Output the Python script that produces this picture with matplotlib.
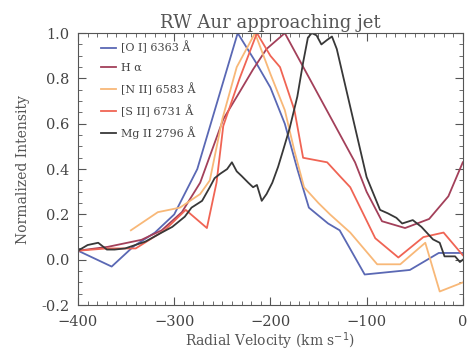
"""RW Aur approaching jet line profiles."""

import matplotlib

matplotlib.use("Agg")
import matplotlib.pyplot as plt
from matplotlib.ticker import FormatStrFormatter, MultipleLocator

# [O I] 6363
oi_v = [-400, -365, -342, -320, -300, -276, -234, -215, -200, -185, -172, -160,
        -140, -128, -102, -55, -25, 0]
oi_i = [0.04, -0.03, 0.06, 0.12, 0.20, 0.40, 1.00, 0.87, 0.76, 0.60, 0.40, 0.23,
        0.16, 0.13, -0.065, -0.045, 0.03, 0.03]

# H alpha
ha_v = [-400, -369, -334, -313, -292, -273, -249, -232, -218, -204, -185, -112,
        -100, -84, -60, -35, -15, 0]
ha_i = [0.04, 0.057, 0.088, 0.13, 0.21, 0.34, 0.62, 0.74, 0.84, 0.93, 1.00, 0.43,
        0.30, 0.17, 0.14, 0.18, 0.28, 0.43]

# [N II] 6583
nii_v = [-345, -317, -294, -273, -263, -250, -235, -216, -200, -185, -175, -165,
         -150, -138, -117, -89, -65, -39, -24, 0]
nii_i = [0.13, 0.21, 0.23, 0.29, 0.35, 0.62, 0.85, 1.00, 0.82, 0.66, 0.48, 0.32,
         0.25, 0.20, 0.12, -0.02, -0.02, 0.075, -0.14, -0.10]

# [S II] 6731
sii_v = [-400, -370, -340, -310, -288, -266, -256, -249, -232, -214, -200, -190,
         -175, -166, -141, -128, -117, -91, -67, -41, -20, 0]
sii_i = [0.04, 0.05, 0.05, 0.13, 0.22, 0.14, 0.34, 0.59, 0.80, 1.00, 0.90, 0.85,
         0.66, 0.45, 0.43, 0.37, 0.32, 0.095, 0.01, 0.10, 0.12, 0.02]

# Mg II 2796
mg_v = [-400, -390, -379, -370, -362, -351, -330, -313, -302, -289, -282, -271,
        -263, -258, -252, -245, -240, -235, -230, -223, -218, -214, -209, -204,
        -198, -192, -187, -180, -172, -166, -161, -157, -152, -147, -141, -136,
        -131, -100, -86, -78, -69, -63, -52, -43, -31, -24, -19, -8, -3, 0]
mg_i = [0.04, 0.065, 0.075, 0.045, 0.045, 0.05, 0.08, 0.12, 0.145, 0.19, 0.23,
        0.26, 0.32, 0.36, 0.38, 0.40, 0.43, 0.39, 0.37, 0.34, 0.32, 0.33, 0.26,
        0.29, 0.34, 0.41, 0.48, 0.58, 0.72, 0.87, 0.98, 1.00, 0.99, 0.95, 0.97,
        0.985, 0.93, 0.365, 0.22, 0.205, 0.185, 0.16, 0.175, 0.145, 0.09, 0.075,
        0.015, 0.015, -0.01, 0.0]

series = [
    (oi_v, oi_i, "#5a68b4", "[O I] 6363 Å"),
    (ha_v, ha_i, "#a3405a", "H α"),
    (nii_v, nii_i, "#f8b878", "[N II] 6583 Å"),
    (sii_v, sii_i, "#f06454", "[S II] 6731 Å"),
    (mg_v, mg_i, "#383838", "Mg II 2796 Å"),
]

plt.rcParams["font.family"] = ["DejaVu Serif"]
grey = "#555555"

fig = plt.figure(figsize=(4.67, 3.56), dpi=100)
ax = fig.add_axes([0.167, 0.143, 0.824, 0.764])

for v, i, c, lab in series:
    ax.plot(v, i, color=c, lw=1.3, label=lab)

ax.set_xlim(-400, 0)
ax.set_ylim(-0.2, 1.0)
ax.xaxis.set_major_locator(MultipleLocator(100))
ax.xaxis.set_minor_locator(MultipleLocator(10))
ax.yaxis.set_major_locator(MultipleLocator(0.2))
ax.yaxis.set_minor_locator(MultipleLocator(0.05))
ax.yaxis.set_major_formatter(FormatStrFormatter("%.1f"))
ax.tick_params(which="both", direction="in", top=True, right=True,
               color=grey, labelcolor="#444444", labelsize=10.5)
ax.tick_params(which="major", length=6)
ax.tick_params(which="minor", length=3)
ax.tick_params(axis="x", pad=7)
ax.tick_params(axis="y", pad=6)
for s in ax.spines.values():
    s.set_color(grey)

ax.set_xlabel("Radial Velocity (km s$^{-1}$)", color=grey, fontsize=10, labelpad=1)
ax.set_ylabel("Normalized Intensity", color=grey, fontsize=10, labelpad=8)
ax.set_title("RW Aur approaching jet", color=grey, fontsize=13, pad=4)

ax.legend(loc="upper left", frameon=False, fontsize=8, handlelength=1.3,
          handletextpad=0.5, labelspacing=0.85, borderaxespad=0.3,
          bbox_to_anchor=(0.04, 1.0), labelcolor="#444444")

fig.savefig("out.png", dpi=100)
